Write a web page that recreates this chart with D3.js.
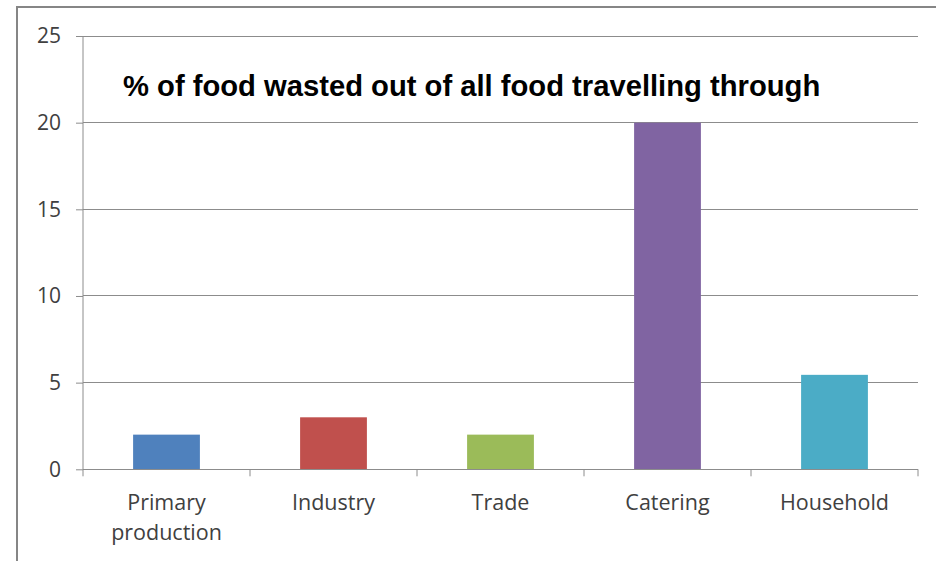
<!DOCTYPE html>
<html><head><meta charset="utf-8">
<script src="https://cdn.jsdelivr.net/npm/d3@7"></script>
<style>body{margin:0;background:#fff}svg{display:block}</style>
</head><body>
<script>
const categories = ["Primary production","Industry","Trade","Catering","Household"];
const values = [2, 3, 2, 20, 5.45];
const colors = ["#4F81BD","#C0504D","#9BBB59","#8064A2","#4BACC6"];
const yTicks = [0,5,10,15,20,25];
const title = "% of food wasted out of all food travelling through";

const W=936,H=561;
const svg=d3.select("body").append("svg").attr("width",W).attr("height",H);
svg.append("rect").attr("x",17).attr("y",7).attr("width",W+10).attr("height",H+10)
  .attr("fill","#fff").attr("stroke","#868686").attr("stroke-width",2);

const L=83,R=918,T=36,B=469.3;
const x=d3.scaleBand().domain(categories).range([L,R]).paddingInner(0.6).paddingOuter(0.3);
const xb=d3.scaleBand().domain(categories).range([L,R]);
const y=d3.scaleLinear().domain([0,25]).range([B,T]);
const font="'Open Sans', Lato, sans-serif";

// gridlines
svg.append("g").selectAll("line").data(yTicks.filter(d=>d>0)).join("line")
  .attr("x1",L).attr("x2",R).attr("y1",d=>y(d)).attr("y2",d=>y(d))
  .attr("stroke","#8c8c8c").attr("stroke-width",1).attr("shape-rendering","crispEdges");

// bars
svg.append("g").selectAll("rect").data(categories).join("rect")
  .attr("x",d=>x(d)).attr("width",x.bandwidth())
  .attr("y",(d,i)=>y(values[i])).attr("height",(d,i)=>B-y(values[i]))
  .attr("fill",(d,i)=>colors[i]);

// y axis
const ya=svg.append("g").attr("transform",`translate(${L},0)`)
  .call(d3.axisLeft(y).tickValues(yTicks).tickSize(7).tickPadding(15));
ya.select(".domain").attr("stroke","#8c8c8c").attr("d",`M0,${T}V${B}`);
ya.selectAll(".tick line").attr("stroke","#8c8c8c");
ya.selectAll("text").attr("font-family",font).attr("font-size",21).attr("fill","#404040");

// x axis
const xa=svg.append("g").attr("transform",`translate(0,${B})`);
xa.append("line").attr("x1",L).attr("x2",R).attr("stroke","#8c8c8c").attr("shape-rendering","crispEdges");
const bounds=categories.map(c=>xb(c)).concat([R]);
xa.selectAll("line.t").data(bounds).join("line").attr("class","t")
  .attr("x1",d=>d).attr("x2",d=>d).attr("y1",0).attr("y2",7).attr("stroke","#8c8c8c");
xa.selectAll("text").data(categories).join("text")
  .attr("x",d=>xb(d)+xb.bandwidth()/2).attr("y",41)
  .attr("text-anchor","middle").attr("font-family",font)
  .attr("font-size",21.5).attr("fill","#404040")
  .each(function(d){
    const words=d.split(" ");
    const t=d3.select(this);
    words.forEach((w,i)=>t.append("tspan").attr("x",xb(d)+xb.bandwidth()/2).attr("dy",i?30:0).text(w));
  });

// title
svg.append("text").attr("x",123).attr("y",96).attr("font-family","'Liberation Sans', Arial, sans-serif")
  .attr("font-weight","bold").attr("font-size",29.2).attr("fill","#000").text(title);
</script>
</body></html>
